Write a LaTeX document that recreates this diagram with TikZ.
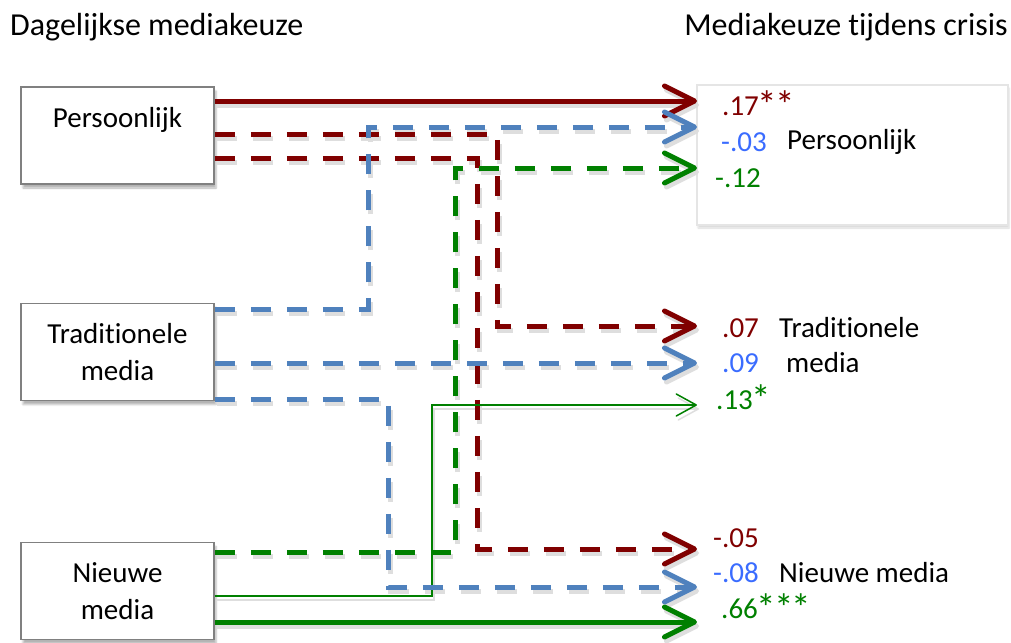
\documentclass[tikz,border=0pt]{standalone}
\usepackage{fontspec}
\usepackage{graphicx}
\setmainfont{Carlito}[Ligatures=NoCommon]
\usetikzlibrary{arrows.meta,shadows.blur}
\definecolor{dred}{HTML}{800000}
\definecolor{lblue}{HTML}{4F81BD}
\definecolor{dgreen}{HTML}{008000}
\definecolor{tblue}{HTML}{3A6CFF}
\newcommand\sstar{\kern-1pt\raisebox{-3pt}{\scalebox{1.35}{*}}\kern-1pt}
\newcommand\mypaths[1]{%
  % red
  \draw[thk, dred, #1] (pers.east |- a1) -- (a1);
  \draw[thk, dsh, dred, #1] (pers.east |- 0,134) -| (497,0 |- a4) -- (a4);
  \draw[thk, dsh, dred, #1] (pers.east |- 0,158) -| (477,0 |- a7) -- (a7);
  % green
  \draw[thk, dsh, dgreen, #1] (nieuw.east |- 0,552) -| (455,0 |- a3) -- (a3);
  \draw[thn, dgreen, #1] (nieuw.east |- 0,596) -| (432,0 |- a6) -- (a6);
  \draw[thk, dgreen, #1] (nieuw.east |- a9) -- (a9);
  % blue
  \draw[thk, dsh, lblue, #1] (trad.east |- 0,309) -| (368,0 |- a2) -- (a2);
  \draw[thk, dsh, lblue, #1] (trad.east |- a5) -- (a5);
  \draw[thk, dsh, lblue, #1] (trad.east |- 0,399) -| (388,0 |- a8) -- (a8);
}
\begin{document}
\begin{tikzpicture}[x=1pt,y=-1pt,
  srcbox/.style={draw=black!50, line width=1.5pt, fill=white, minimum width=193pt, minimum height=97pt,
    align=center, font=\fontsize{29}{37}\selectfont, blur shadow={shadow xshift=2pt, shadow yshift=-4pt, shadow opacity=30}},
  tgtbox/.style={draw=black!10, line width=1.5pt, fill=white, minimum width=311pt, minimum height=140pt,
    blur shadow={shadow xshift=1pt, shadow yshift=-3pt, shadow opacity=15}},
  lbl/.style={anchor=west, inner sep=0pt, font=\fontsize{29}{34}\selectfont},
  hdr/.style={inner sep=0pt, font=\fontsize{32}{38}\selectfont},
  thk/.style={line width=5pt, -{Straight Barb[length=30pt, width=30pt, round]}},
  thn/.style={line width=1.5pt, -{Straight Barb[length=20pt, width=22pt, round]}},
  dsh/.style={dash pattern=on 20pt off 16pt},
  shadowline/.style={draw=black!13, transform canvas={xshift=2pt, yshift=-4pt}},
]
\useasboundingbox (0,0) rectangle (1011,642);

\node[hdr, anchor=west] (h1) at (10,27) {Dagelijkse mediakeuze};
\node[hdr, anchor=east] (h2) at (1008,27) {Mediakeuze tijdens crisis};

\node[tgtbox] (tgt) at (852.5,155) {};

\node[srcbox] (pers) at (117.5,135.5) {Persoonlijk\\\mbox{}};
\node[srcbox] (trad) at (117.5,352) {Traditionele\\media};
\node[srcbox] (nieuw) at (117.5,591) {Nieuwe\\media};

\coordinate (a1) at (697,101);
\coordinate (a2) at (697,127);
\coordinate (a3) at (697,168);
\coordinate (a4) at (697,326);
\coordinate (a5) at (697,363);
\coordinate (a6) at (697,405);
\coordinate (a7) at (697,549);
\coordinate (a8) at (697,587);
\coordinate (a9) at (697,622);

\mypaths{shadowline}
\mypaths{}

% labels
\node[lbl, dred] (l1) at (722,105) {.17\sstar\sstar};
\node[lbl, tblue] (l2) at (721,142) {-.03};
\node[lbl] (n1) at (787,142) {Persoonlijk};
\node[lbl, dgreen] (l3) at (715,178) {-.12};
\node[lbl, dred] (l4) at (722,328) {.07};
\node[lbl] (n2) at (779,328) {Traditionele};
\node[lbl, tblue] (l5) at (722,363) {.09};
\node[lbl] (n3) at (786,363) {media};
\node[lbl, dgreen] (l6) at (716,399) {.13\sstar};
\node[lbl, dred] (l7) at (713,538) {-.05};
\node[lbl, tblue] (l8) at (713,573) {-.08};
\node[lbl] (n4) at (779,573) {Nieuwe media};
\node[lbl, dgreen] (l9) at (721,608) {.66\sstar\sstar\sstar};
\end{tikzpicture}
\end{document}
